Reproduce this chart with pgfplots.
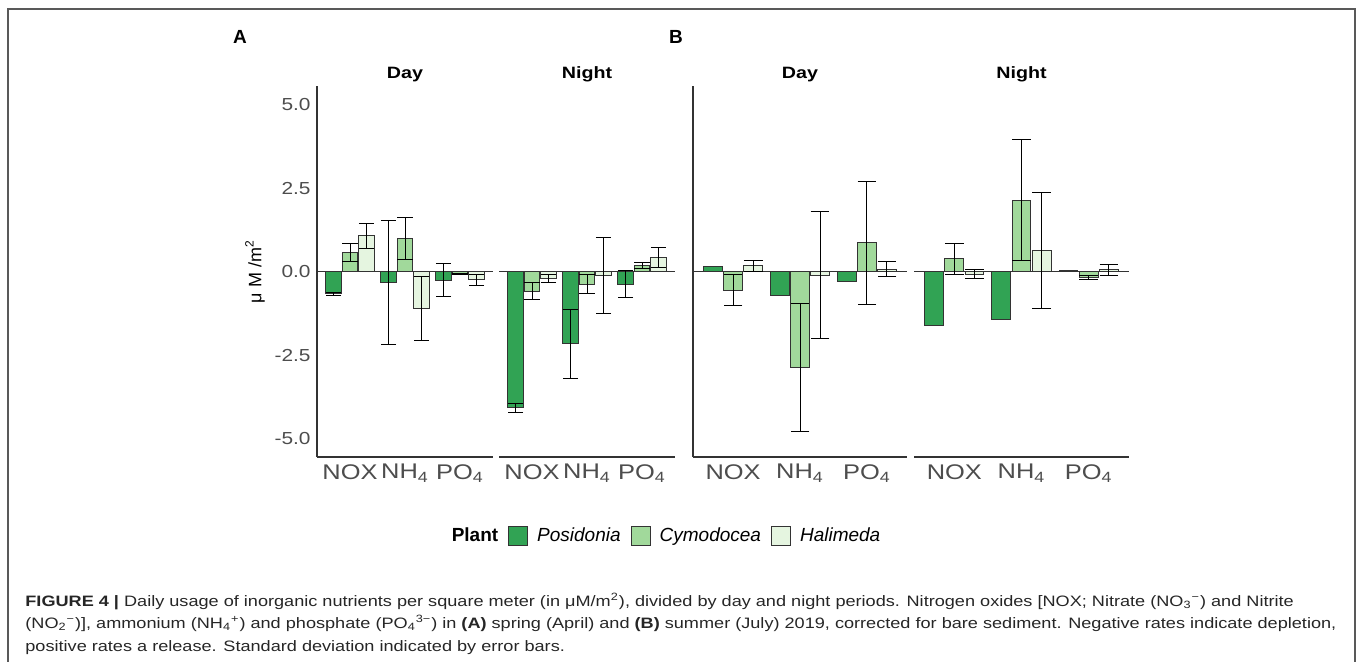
\documentclass[border=0pt]{standalone}
\usepackage{fontspec}
\setmainfont{Liberation Sans}
\newfontfamily\widefont[FakeStretch=1.2]{Liberation Sans}
\usepackage{pgfplots}
\pgfplotsset{compat=1.18}
\definecolor{pos}{HTML}{31A354}
\definecolor{cym}{HTML}{A1D99B}
\definecolor{hal}{HTML}{E5F5E0}
\definecolor{edge}{HTML}{333333}
\definecolor{tick}{HTML}{4D4D4D}
\pgfplotsset{
  panel/.style={
    scale only axis,
    height=185.5pt,
    ybar,
    bar width=0.28,
    ymin=-5.54, ymax=5.55,
    xmin=-0.6, xmax=2.6,
    xtick={0,1,2},
    xticklabels={NOX,NH\textsubscript{4},PO\textsubscript{4}},
    major tick length=0pt,
    axis x line*=bottom,
    axis line style={line width=0.6pt, draw=black!80, -},
    xticklabel style={font=\widefont\fontsize{10.6}{13}\selectfont, text=tick, anchor=north, inner sep=0pt, yshift=-3.5pt},
    every axis title/.style={font=\widefont\fontsize{8.2}{9}\selectfont\bfseries, at={(0.5,1)}, anchor=base, yshift=3.8pt, inner sep=0pt},
    clip=false,
    error bars/y dir=both,
    error bars/y explicit,
    error bars/error mark=|,
    error bars/error bar style={line width=0.5pt, black},
  },
  dayy/.style={axis y line*=left},
  nighty/.style={axis y line=none, ytick=\empty},
  capA/.style={error bars/error mark options={mark size=3.85pt, line width=0.5pt, black}},
  capB/.style={error bars/error mark options={mark size=4.68pt, line width=0.5pt, black}},
  bp/.style={draw=edge, line width=0.5pt, fill=#1},
}
\newcommand{\zeroline}{\draw[black!80, line width=0.5pt] (axis cs:-0.6,0) -- (axis cs:2.6,0);}
\begin{document}
\begin{tikzpicture}
% frame
\draw[black!65, line width=0.8pt] (4pt,-335pt) -- (4pt,-4.5pt) -- (677.5pt,-4.5pt) -- (677.5pt,-335pt);
% panel letters
\node[font=\fontsize{9.5}{11}\selectfont\bfseries] at (120pt,-18.5pt) {A};
\node[font=\fontsize{9.5}{11}\selectfont\bfseries] at (338pt,-18.5pt) {B};

% ---------------- Panel A, Day
\begin{axis}[panel, dayy, capA, width=88pt, at={(158.5pt,-228.5pt)}, anchor=south west,
  title={Day},
  ytick={-5,-2.5,0,2.5,5},
  yticklabels={-5.0,-2.5,0.0,2.5,5.0},
  yticklabel style={font=\widefont\fontsize{8.7}{10}\selectfont, text=tick, inner sep=0pt, xshift=-3pt},
  ylabel={μ M /m\textsuperscript{2}},
  every axis y label/.style={at={(axis description cs:-0.352,0.5)}, rotate=90, anchor=center, font=\fontsize{9}{10}\selectfont},
  legend style={at={(1.969,-0.213)}, anchor=center, draw=none, fill=none,
    legend columns=-1, font=\fontsize{9.5}{11}\selectfont,
    /tikz/every even column/.append style={column sep=3pt},
    /tikz/every odd column/.append style={column sep=2.5pt}},
  legend image code/.code={\draw[#1, draw=edge, line width=0.5pt] (0pt,-4.75pt) rectangle (9.5pt,4.75pt);},
]
\zeroline
\addlegendimage{empty legend}\addlegendentry{\textbf{Plant}}
\addplot[bp=pos, bar shift=-0.3] coordinates {(0,-0.66) +- (0,0.05) (1,-0.32) +- (0,1.86) (2,-0.25) +- (0,0.50)};
\addlegendentry{\textit{Posidonia}}
\addplot[bp=cym, bar shift=0] coordinates {(0,0.57) +- (0,0.28) (1,1.00) +- (0,0.63) (2,-0.07) +- (0,0.02)};
\addlegendentry{\textit{Cymodocea}}
\addplot[bp=hal, bar shift=0.3] coordinates {(0,1.07) +- (0,0.38) (1,-1.10) +- (0,0.96) (2,-0.24) +- (0,0.16)};
\addlegendentry{\textit{Halimeda}}
\end{axis}

% ---------------- Panel A, Night
\begin{axis}[panel, nighty, capA, width=88pt, at={(249.5pt,-228.5pt)}, anchor=south west,
  title={Night}]
\zeroline
\addplot[bp=pos, bar shift=-0.3] coordinates {(0,-4.07) +- (0,0.13) (1,-2.15) +- (0,1.03) (2,-0.38) +- (0,0.40)};
\addplot[bp=cym, bar shift=0] coordinates {(0,-0.58) +- (0,0.25) (1,-0.37) +- (0,0.28) (2,0.18) +- (0,0.10)};
\addplot[bp=hal, bar shift=0.3] coordinates {(0,-0.20) +- (0,0.12) (1,-0.12) +- (0,1.13) (2,0.42) +- (0,0.29)};
\end{axis}

% ---------------- Panel B, Day
\begin{axis}[panel, dayy, capB, width=107pt, at={(346.5pt,-228.5pt)}, anchor=south west,
  title={Day}, ytick=\empty]
\zeroline
\addplot[bp=pos, bar shift=-0.3, error bars/y dir=none] coordinates {(0,0.14) (1,-0.70) (2,-0.29)};
\addplot[bp=cym, bar shift=0] coordinates {(0,-0.55) +- (0,0.47) (1,-2.86) +- (0,1.92) (2,0.86) +- (0,1.85)};
\addplot[bp=hal, bar shift=0.3] coordinates {(0,0.17) +- (0,0.16) (1,-0.10) +- (0,1.91) (2,0.07) +- (0,0.22)};
\end{axis}

% ---------------- Panel B, Night
\begin{axis}[panel, nighty, capB, width=107.5pt, at={(457pt,-228.5pt)}, anchor=south west,
  title={Night}]
\zeroline
\addplot[bp=pos, bar shift=-0.3, error bars/y dir=none] coordinates {(0,-1.61) (1,-1.43) (2,0.02)};
\addplot[bp=cym, bar shift=0] coordinates {(0,0.39) +- (0,0.46) (1,2.13) +- (0,1.81) (2,-0.16) +- (0,0.06)};
\addplot[bp=hal, bar shift=0.3] coordinates {(0,-0.08) +- (0,0.13) (1,0.63) +- (0,1.74) (2,0.05) +- (0,0.15)};
\end{axis}

% caption
\begin{scope}[every node/.style={anchor=base west, inner sep=0pt, font=\widefont\fontsize{7.55}{9}\selectfont, text=black!85}]
\node at (12.5pt,-303pt) {\textbf{FIGURE 4 |} Daily usage of inorganic nutrients per square meter (in μM/m\textsuperscript{2}), divided by day and night periods. Nitrogen oxides [NOX; Nitrate (NO\textsubscript{3}\textsuperscript{−}) and Nitrite};
\node at (12.5pt,-314.3pt) {(NO\textsubscript{2}\textsuperscript{−})], ammonium (NH\textsubscript{4}\textsuperscript{+}) and phosphate (PO\textsubscript{4}\textsuperscript{3−}) in \textbf{(A)} spring (April) and \textbf{(B)} summer (July) 2019, corrected for bare sediment. Negative rates indicate depletion,};
\node at (12.5pt,-325.5pt) {positive rates a release. Standard deviation indicated by error bars.};
\end{scope}
\pgfresetboundingbox
\useasboundingbox (0pt,0pt) rectangle (679pt,-331pt);
\end{tikzpicture}
\end{document}
